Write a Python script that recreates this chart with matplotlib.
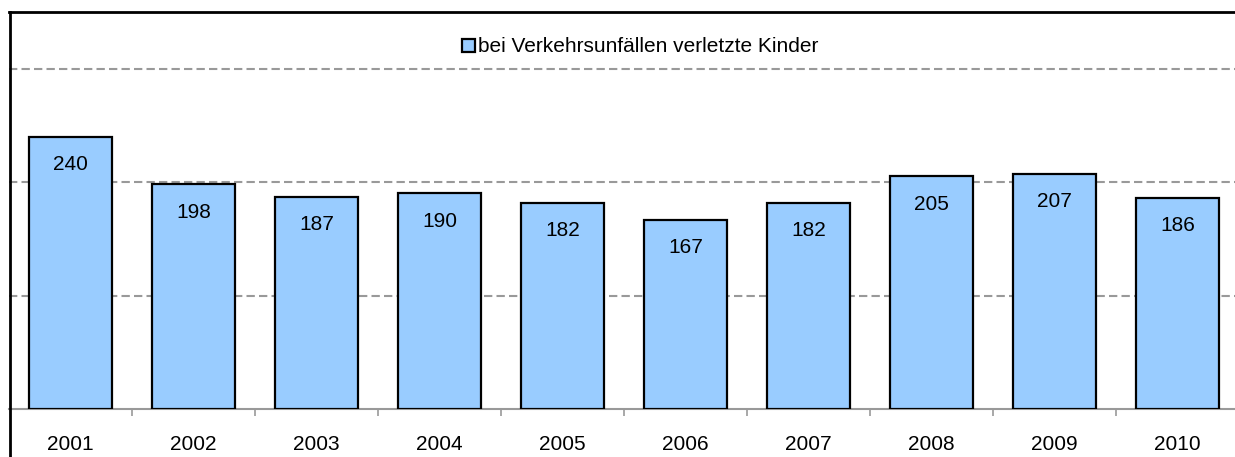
import matplotlib
matplotlib.use("Agg")
import matplotlib.pyplot as plt
from matplotlib.lines import Line2D

years  = ["2001", "2002", "2003", "2004", "2005", "2006", "2007", "2008", "2009", "2010"]
values = [240, 198, 187, 190, 182, 167, 182, 205, 207, 186]
label  = "bei Verkehrsunfällen verletzte Kinder"

plt.rcParams["font.family"] = ["Liberation Sans", "DejaVu Sans"]

W, H = 1235, 457
fig = plt.figure(figsize=(W / 100, H / 100), dpi=100)
ax = fig.add_axes([9 / W, (H - 409) / H, 1230 / W, 397 / H])

x = list(range(len(years)))
ax.bar(x, values, width=0.667, color="#99CCFF", edgecolor="black",
       linewidth=1.6, label=label, zorder=3)

# value labels just below the top of each bar
for xi, v in zip(x, values):
    ax.annotate(str(v), xy=(xi, v), xytext=(0, -20), textcoords="offset points",
                ha="center", va="center", fontsize=15, zorder=4)

ax.set_xlim(-0.5, len(years) - 0.5)
ax.set_ylim(0, 350)
ax.set_yticks([100, 200, 300])
ax.yaxis.grid(True, color="#999999", linestyle=(0, (4, 2)), linewidth=1.5, zorder=0)
ax.tick_params(axis="y", left=False, labelleft=False)

ax.set_xticks(x)
ax.set_xticklabels(years, fontsize=15)
ax.tick_params(axis="x", length=0, pad=19)
ax.set_xticks([i + 0.5 for i in x[:-1]], minor=True)
ax.tick_params(axis="x", which="minor", length=5, width=1.2, color="#999999",
               direction="out")

ax.spines["right"].set_visible(False)
ax.spines["left"].set_visible(False)
ax.spines["bottom"].set_color("#999999")
ax.spines["bottom"].set_linewidth(1.5)
ax.spines["top"].set_linewidth(2)
fig.add_artist(Line2D([10 / W, 10 / W], [0, (H - 12) / H], color="black",
                      linewidth=2, transform=fig.transFigure))

ax.legend(loc="center", bbox_to_anchor=(640 / W, (H - 47) / H),
          bbox_transform=fig.transFigure, frameon=False, fontsize=15,
          handlelength=0.6, handleheight=0.6, handletextpad=0.15)

fig.savefig("out.png", dpi=100)
